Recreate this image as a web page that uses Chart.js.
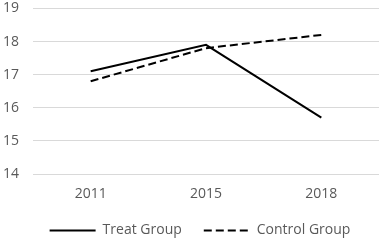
<!DOCTYPE html>
<html>
<head>
<meta charset="utf-8">
<script src="https://cdn.jsdelivr.net/npm/chart.js@4/dist/chart.umd.min.js"></script>
<style>
  html, body { margin: 0; padding: 0; background: #ffffff; }
  #wrap { width: 383px; height: 241px; }
</style>
</head>
<body>
<div id="wrap"><canvas id="lineChart"></canvas></div>
<script>
// Data
const years = ["2011", "2015", "2018"];
const treatGroup = [17.1, 17.9, 15.7];
const controlGroup = [16.8, 17.8, 18.2];
const yTicks = [14, 15, 16, 17, 18, 19];

const textColor = "#595959";
const fontFamily = "'Open Sans', 'Liberation Sans', sans-serif";
const dashPattern = [8, 4];

// small nudge so the legend sits a bit right of centre, like the original
const legendNudge = {
  id: "legendNudge",
  afterLayout: function (chart) {
    if (chart.legend) {
      chart.legend.left += 9;
      chart.legend.right += 9;
    }
  },
};

const ctx = document.getElementById("lineChart").getContext("2d");
window.lineChart = new Chart(ctx, {
  type: "line",
  data: {
    labels: years,
    datasets: [
      {
        label: "Treat Group",
        data: treatGroup,
        borderColor: "#000000",
        backgroundColor: "#000000",
        borderWidth: 2,
        pointRadius: 0,
        tension: 0,
      },
      {
        label: "Control Group",
        data: controlGroup,
        borderColor: "#000000",
        backgroundColor: "#000000",
        borderWidth: 2,
        borderDash: dashPattern,
        pointRadius: 0,
        tension: 0,
      },
    ],
  },
  options: {
    responsive: true,
    maintainAspectRatio: false,
    animation: false,
    layout: {
      padding: { top: 0.6, right: 4, left: 3, bottom: 0 },
    },
    scales: {
      x: {
        offset: true,
        grid: { display: false, drawTicks: false },
        border: { display: false },
        afterFit: function (axis) {
          axis.height = 27.5;
        },
        ticks: {
          color: textColor,
          padding: 12,
          font: { size: 14, family: fontFamily },
        },
      },
      y: {
        min: yTicks[0],
        max: yTicks[yTicks.length - 1],
        afterBuildTicks: function (axis) {
          axis.ticks = yTicks.map(function (v) { return { value: v }; });
        },
        afterFit: function (axis) {
          axis.width = 30;
        },
        grid: { color: "#d9d9d9", lineWidth: 1, drawTicks: false },
        border: { display: false },
        ticks: {
          color: textColor,
          padding: 0,
          crossAlign: "far",
          font: { size: 14, family: fontFamily },
        },
      },
    },
    plugins: {
      legend: {
        position: "bottom",
        maxHeight: 39.5,
        labels: {
          color: textColor,
          boxWidth: 46,
          boxHeight: 0,
          padding: 22,
          font: { size: 14, family: fontFamily },
          generateLabels: function (chart) {
            const items = Chart.defaults.plugins.legend.labels.generateLabels(chart);
            items.forEach(function (item, i) {
              item.lineDash = chart.data.datasets[i].borderDash || [];
              item.lineWidth = 2;
              item.strokeStyle = "#000000";
            });
            return items;
          },
        },
      },
      tooltip: { enabled: false },
    },
  },
  plugins: [legendNudge],
});
</script>
</body>
</html>
